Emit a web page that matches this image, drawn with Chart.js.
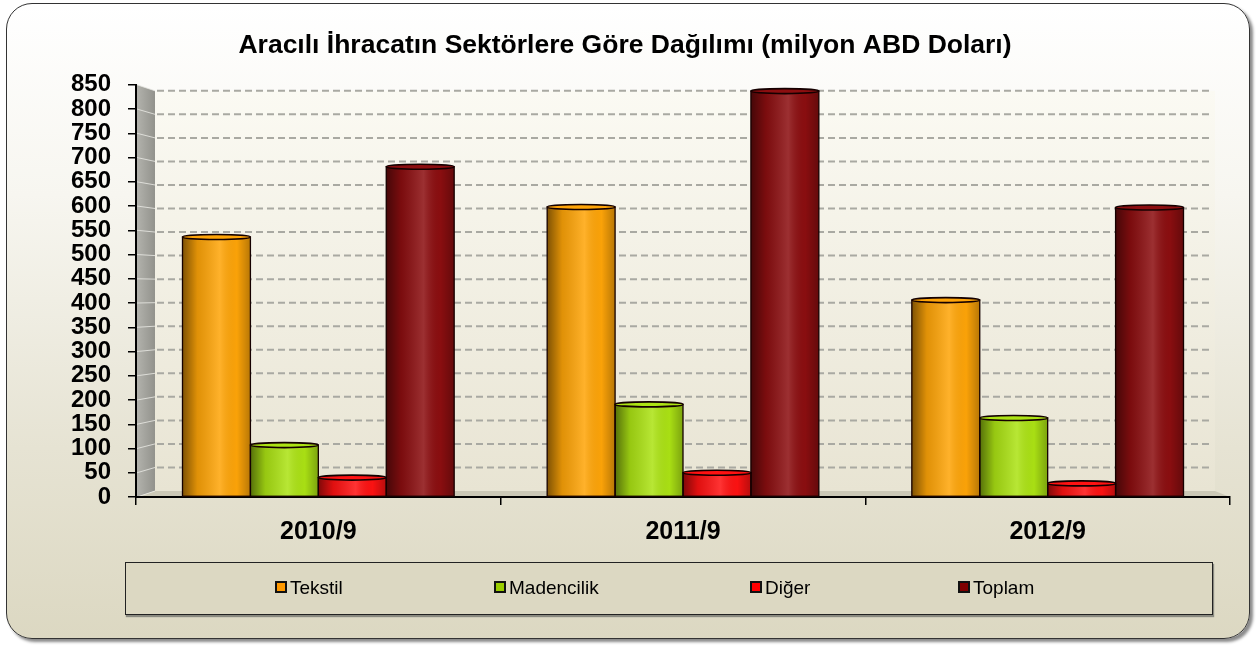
<!DOCTYPE html>
<html>
<head>
<meta charset="utf-8">
<script src="https://cdn.jsdelivr.net/npm/chart.js@4.4.1/dist/chart.umd.min.js"></script>
<style>
  body { margin: 0; width: 1258px; height: 645px; overflow: hidden; background: #fff; font-family: "Liberation Sans", Arial, sans-serif; }
  #frame { position: absolute; left: 6px; top: 3px; width: 1242px; height: 634px; border: 1.5px solid #333; border-radius: 26px;
    background: linear-gradient(180deg, #ffffff 0%, #f7f6f0 30%, #e6e3d3 70%, #dcd8c2 100%); box-shadow: 3px 3px 3px #8a8a8a; }
  #chart { position: absolute; left: 0; top: 0; }
  #legend { position: absolute; left: 125px; top: 562px; width: 1086px; height: 51px; border: 1.5px solid #222; background: #dcd8c2;
    box-shadow: 1px 2px 1px #8a8a80; }
  .item { position: absolute; top: 14px; font-size: 19px; line-height: 22px; color: #000; white-space: nowrap; }
  .item i { display: inline-block; width: 8px; height: 8px; border: 2px solid #111; margin-right: 3px; vertical-align: 1px; }
</style>
</head>
<body>
<div id="frame"></div>
<canvas id="chart" width="1258" height="645"></canvas>
<div id="legend"></div>
<script>
const categories = ["2010/9", "2011/9", "2012/9"];
const seriesNames = ["Tekstil", "Madencilik", "Diğer", "Toplam"];
const tekstil = [536, 598, 406];
const madencilik = [107, 191, 163];
const diger = [40, 50, 28];
const toplam = [681, 837, 597];
const barColors = ["#ffa508", "#ace314", "#ff1212", "#8c0e10"];
const legendColors = ["#ff9900", "#99cc00", "#ff0000", "#800000"];

const legendX = [149, 368, 624, 832];
const legendEl = document.getElementById("legend");
seriesNames.forEach(function (name, i) {
  const d = document.createElement("div");
  d.className = "item";
  d.style.left = legendX[i] + "px";
  d.innerHTML = '<i style="background:' + legendColors[i] + '"></i>' + name;
  legendEl.appendChild(d);
});

const DEPTH = 19, DROP = 6;

// back wall, side wall, floor and dashed grid behind the bars
const walls = {
  id: "walls",
  beforeDraw(chart) {
    const ctx = chart.ctx, ca = chart.chartArea, y = chart.scales.y;
    const bTop = ca.top + DROP, bBot = ca.bottom - DROP;
    const bLeft = ca.left + DEPTH, bRight = ca.right - 15;
    ctx.save();
    let g = ctx.createLinearGradient(0, bTop, 0, bBot);
    g.addColorStop(0, "#fbfaf3");
    g.addColorStop(1, "#e8e4d3");
    ctx.fillStyle = g;
    ctx.fillRect(bLeft, bTop, bRight - bLeft, bBot - bTop);

    g = ctx.createLinearGradient(ca.left, 0, bLeft, 0);
    g.addColorStop(0, "#b4b4ae");
    g.addColorStop(1, "#92928c");
    ctx.fillStyle = g;
    ctx.beginPath();
    ctx.moveTo(ca.left + 1, ca.top);
    ctx.lineTo(bLeft, bTop);
    ctx.lineTo(bLeft, bBot);
    ctx.lineTo(ca.left + 1, ca.bottom);
    ctx.closePath();
    ctx.fill();

    ctx.fillStyle = "#cbc8b6";
    ctx.beginPath();
    ctx.moveTo(ca.left + 1, ca.bottom);
    ctx.lineTo(bLeft, bBot);
    ctx.lineTo(bRight, bBot);
    ctx.lineTo(ca.right, ca.bottom);
    ctx.closePath();
    ctx.fill();

    const k = (bBot - bTop) / (ca.bottom - ca.top);
    y.ticks.forEach(function (t) {
      const yf = y.getPixelForValue(t.value);
      const yb = bBot - (ca.bottom - yf) * k;
      ctx.strokeStyle = "rgba(235,235,230,0.8)";
      ctx.lineWidth = 1;
      ctx.setLineDash([]);
      ctx.beginPath();
      ctx.moveTo(ca.left + 1, yf);
      ctx.lineTo(bLeft, yb);
      ctx.stroke();
      if (t.value === 0) return;
      ctx.strokeStyle = "#a9a9a2";
      ctx.lineWidth = 2;
      ctx.setLineDash([7, 4]);
      ctx.beginPath();
      ctx.moveTo(bLeft + 2, yb);
      ctx.lineTo(bRight - 2, yb);
      ctx.stroke();
    });
    ctx.restore();
  }
};

// cylinder shading on top of the flat bars
const cylinders = {
  id: "cylinders",
  afterDatasetsDraw(chart) {
    const ctx = chart.ctx;
    chart.data.datasets.forEach(function (ds, di) {
      chart.getDatasetMeta(di).data.forEach(function (bar) {
        const l = bar.x - bar.width / 2, r = bar.x + bar.width / 2;
        const top = bar.y, bot = bar.base;
        ctx.save();
        const g = ctx.createLinearGradient(l, 0, r, 0);
        g.addColorStop(0, "rgba(0,0,0,0.5)");
        g.addColorStop(0.22, "rgba(0,0,0,0.12)");
        g.addColorStop(0.55, "rgba(255,255,255,0.14)");
        g.addColorStop(0.8, "rgba(0,0,0,0.02)");
        g.addColorStop(1, "rgba(0,0,0,0.28)");
        ctx.fillStyle = g;
        ctx.fillRect(l, top, r - l, bot - top);
        ctx.strokeStyle = "#150000";
        ctx.lineWidth = 1.3;
        ctx.strokeRect(l, top, r - l, bot - top);
        ctx.beginPath();
        ctx.ellipse(bar.x, top, bar.width / 2, 2.5, 0, 0, Math.PI * 2);
        ctx.fillStyle = ds.backgroundColor;
        ctx.fill();
        ctx.lineWidth = 1.6;
        ctx.stroke();
        ctx.restore();
      });
    });
  }
};

const seriesValues = [tekstil, madencilik, diger, toplam];
const font = "'Liberation Sans', Arial, sans-serif";

new Chart(document.getElementById("chart"), {
  type: "bar",
  data: {
    labels: categories,
    datasets: seriesNames.map(function (name, i) {
      return { label: name, data: seriesValues[i], backgroundColor: barColors[i], borderWidth: 0,
               barPercentage: 1, categoryPercentage: 0.745 };
    })
  },
  options: {
    responsive: false,
    animation: false,
    devicePixelRatio: 1,
    layout: { padding: { left: 20, right: 28, top: 0, bottom: 85 } },
    plugins: {
      legend: { display: false },
      tooltip: { enabled: false },
      title: {
        display: true,
        text: "Aracılı İhracatın Sektörlere Göre Dağılımı (milyon ABD Doları)",
        color: "#000",
        font: { family: font, size: 26.5, weight: "bold" },
        padding: { top: 30, bottom: 23 }
      }
    },
    scales: {
      x: {
        grid: { offset: true, drawOnChartArea: false, drawTicks: true, tickLength: 8, color: "#000", lineWidth: 1.5 },
        border: { display: true, color: "#000", width: 2 },
        ticks: { color: "#000", padding: 12, font: { family: font, size: 25, weight: "bold" } },
        afterFit(s) { s.height = 63; }
      },
      y: {
        min: 0, max: 850,
        grid: { drawOnChartArea: false, drawTicks: true, tickLength: 8, color: "#000", lineWidth: 1.5 },
        border: { display: true, color: "#000", width: 2 },
        ticks: { stepSize: 50, autoSkip: false, color: "#000", padding: 17,
                 font: { family: font, size: 24, weight: "bold" } },
        afterFit(s) { s.width = 116; }
      }
    }
  },
  plugins: [walls, cylinders]
});
</script>
</body>
</html>
